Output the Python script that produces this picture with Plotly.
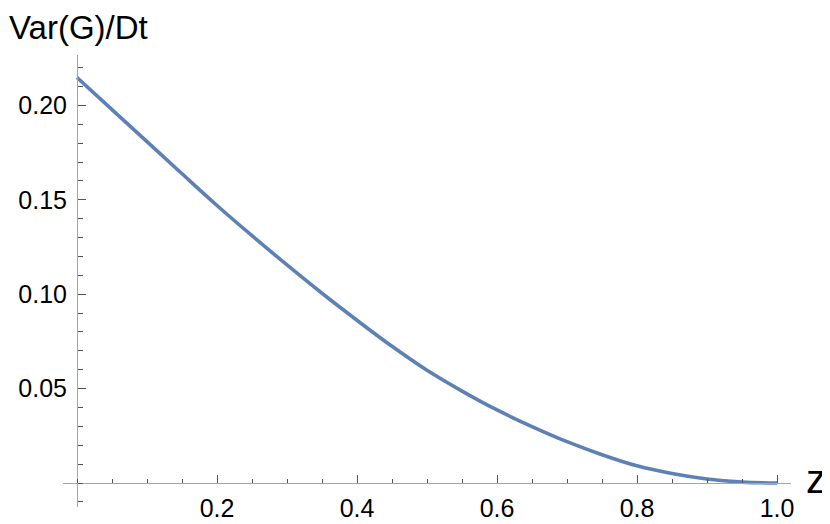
import plotly.graph_objects as go

# curve
z_vals = [0.00, 0.05, 0.10, 0.15, 0.20, 0.25, 0.30, 0.35, 0.40, 0.45, 0.50,
          0.55, 0.60, 0.65, 0.70, 0.75, 0.80, 0.85, 0.90, 0.95, 1.00]
var_vals = [0.2148, 0.1978, 0.1808, 0.1638, 0.1470, 0.1310, 0.1155, 0.1005,
            0.0862, 0.0724, 0.0597, 0.0487, 0.0387, 0.0299, 0.0219, 0.0150,
            0.0091, 0.0050, 0.0021, 0.0005, 0.0000]

x_ticks = [0.2, 0.4, 0.6, 0.8, 1.0]
x_labels = ["0.2", "0.4", "0.6", "0.8", "1.0"]
y_ticks = [0.05, 0.10, 0.15, 0.20]
y_labels = ["0.05", "0.10", "0.15", "0.20"]

# the page body adds an 8px margin, so the figure is drawn 8px smaller
off = 8
W, H = 830 - off, 524 - off
ml, mr, mt, mb = 63 - off, 39, 55 - off, 17
xr = [-0.02, 1.02]
yr = [-0.0127, 0.2267]

axis_col = "#a6a6a6"
tick_col = "#555555"
font = "Liberation Sans, Arial, sans-serif"

fig = go.Figure()
fig.add_trace(go.Scatter(x=z_vals, y=var_vals, mode="lines",
                         line=dict(color="#5e81b5", width=3.6, shape="spline"),
                         hoverinfo="skip", cliponaxis=False))

fig.update_layout(
    width=W, height=H,
    margin=dict(l=ml, r=mr, t=mt, b=mb),
    plot_bgcolor="white", paper_bgcolor="white",
    showlegend=False,
    font=dict(family=font, color="black"),
    xaxis=dict(
        range=xr, showgrid=False, zeroline=False,
        showline=True, linecolor=axis_col, linewidth=1,
        anchor="free", position=(0 - yr[0]) / (yr[1] - yr[0]),
        tickmode="array", tickvals=x_ticks, ticktext=x_labels,
        ticks="inside", ticklen=8, tickwidth=1, tickcolor=tick_col,
        tickfont=dict(size=25), ticklabelstandoff=3,
        minor=dict(tickmode="linear", tick0=0, dtick=0.05, ticks="inside",
                   ticklen=4.5, tickwidth=1, tickcolor=tick_col),
        automargin=False,
    ),
    yaxis=dict(
        range=yr, showgrid=False, zeroline=False,
        showline=True, linecolor=axis_col, linewidth=1,
        anchor="free", position=(0 - xr[0]) / (xr[1] - xr[0]),
        tickmode="array", tickvals=y_ticks, ticktext=y_labels,
        ticks="inside", ticklen=8, tickwidth=1, tickcolor=tick_col,
        tickfont=dict(size=25), ticklabelstandoff=5,
        minor=dict(tickmode="linear", tick0=0, dtick=0.01, ticks="inside",
                   ticklen=4.5, tickwidth=1, tickcolor=tick_col),
        automargin=False,
    ),
)

pw = W - ml - mr
ph = H - mt - mb
fig.add_annotation(text="Var(G)/Dt", xref="paper", yref="paper",
                   x=-ml / pw, y=1 + mt / ph, xanchor="left", yanchor="top",
                   borderpad=0,
                   showarrow=False, font=dict(size=33, family=font))
fig.add_annotation(text="z", xref="paper", yref="y",
                   x=(805 - off - ml) / pw, y=0.002, xanchor="left", yanchor="middle",
                   borderpad=0,
                   showarrow=False, font=dict(size=40, family=font))

fig.write_html("out.html")
